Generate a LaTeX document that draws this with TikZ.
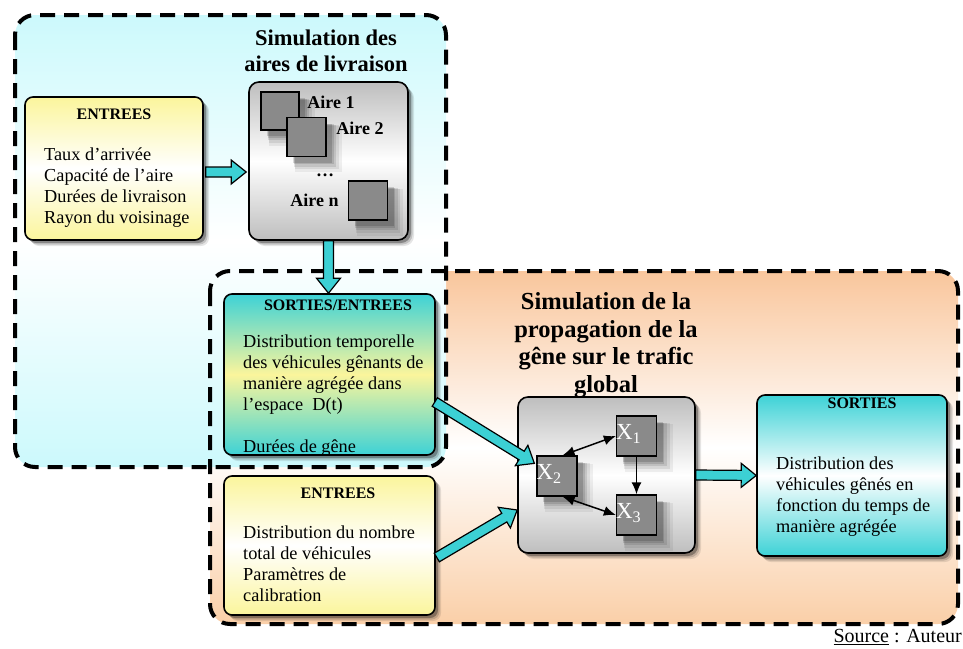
\documentclass[tikz,border=0pt]{standalone}
\usepackage{fontspec}
\setmainfont{Liberation Serif}
\usetikzlibrary{arrows.meta, positioning, calc, shadows}
\definecolor{zonecyan}{HTML}{CCF9FC}
\definecolor{zoneorange}{HTML}{F9C69C}
\definecolor{zoneorangelow}{HTML}{FACFA8}
\definecolor{boxyellow}{HTML}{FBF59C}
\definecolor{boxcyan}{HTML}{3DD2D6}
\definecolor{boxgray}{HTML}{BEBEBE}
\definecolor{stategray}{HTML}{8A8A8A}
\definecolor{arrowcyan}{HTML}{3CD0D4}
\tikzset{
  zone/.style={line width=4pt, dash pattern=on 15pt off 9pt, rounded corners=20pt},
  boxshadow/.style={drop shadow={shadow xshift=6pt, shadow yshift=-6pt, fill=black, opacity=.1},
    drop shadow={shadow xshift=4.5pt, shadow yshift=-4.5pt, fill=black, opacity=.15},
    drop shadow={shadow xshift=3pt, shadow yshift=-3pt, fill=black, opacity=.3}},
  sqshadow/.style={drop shadow={shadow xshift=10pt, shadow yshift=-10pt, shadow scale=1.2, fill=black, opacity=.06},
    drop shadow={shadow xshift=9pt, shadow yshift=-9pt, shadow scale=1.14, fill=black, opacity=.08},
    drop shadow={shadow xshift=8pt, shadow yshift=-8pt, shadow scale=1.08, fill=black, opacity=.1},
    drop shadow={shadow xshift=7pt, shadow yshift=-7pt, shadow scale=1.03, fill=black, opacity=.12},
    drop shadow={shadow xshift=6pt, shadow yshift=-6pt, fill=black, opacity=.15}},
  inbox/.style={draw, line width=1.6pt, rounded corners=8pt, top color=boxyellow,
    bottom color=boxyellow, middle color=white, boxshadow},
  iobox/.style={draw, line width=1.6pt, rounded corners=8pt, top color=boxcyan,
    bottom color=boxcyan, middle color=boxyellow, boxshadow},
  outbox/.style={draw, line width=1.6pt, rounded corners=8pt, top color=boxcyan,
    bottom color=boxcyan, middle color=white, boxshadow},
  simbox/.style={draw, line width=1.6pt, rounded corners=10pt, top color=boxgray,
    bottom color=boxgray, middle color=white, boxshadow},
  state/.style={draw, line width=1.3pt, fill=stategray, inner sep=0pt, sqshadow},
  zonetitle/.style={font=\bfseries\fontsize{22.5}{26}\selectfont, align=center, inner sep=0pt},
  boxtitle/.style={font=\bfseries\fontsize{16}{19}\selectfont, inner sep=0pt},
  boxtext/.style={font=\fontsize{18.3}{21}\selectfont, align=left, inner sep=0pt, anchor=west},
  airelbl/.style={font=\bfseries\fontsize{18}{20}\selectfont, inner sep=0pt},
  xlbl/.style={font=\fontsize{23}{26}\selectfont, text=white, inner sep=0pt},
  link/.style={line width=1.5pt, black},
  fatarrow/.style={fill=arrowcyan, draw=black, line width=1.2pt, line join=miter},
  >={Latex[length=12pt, width=10pt]}
}
\newcommand{\fatarrow}[2]{%
  \path (#1) coordinate (fa-s) (#2) coordinate (fa-e);
  \path ($(fa-e)!15pt!(fa-s)$) coordinate (fa-h);
  \draw[fatarrow] ($(fa-s)!5pt!90:(fa-e)$) -- ($(fa-h)!5pt!90:(fa-e)$)
    -- ($(fa-h)!12pt!90:(fa-e)$) -- (fa-e) -- ($(fa-h)!12pt!-90:(fa-e)$)
    -- ($(fa-h)!5pt!-90:(fa-e)$) -- ($(fa-s)!5pt!-90:(fa-e)$) -- cycle;
}
\begin{document}
\begin{tikzpicture}[x=1pt, y=-1pt]
  \useasboundingbox (0,0) rectangle (963,648);
  % Zones (fills first, then dashed borders)
  \shade[top color=zoneorange, bottom color=zoneorangelow, middle color=white, rounded corners=20pt]
    (210,271) rectangle (958,624);
  \shade[top color=zonecyan, bottom color=zonecyan, middle color=white, rounded corners=20pt]
    (15,15) rectangle (446,467);
  \draw[zone] (210,271) rectangle (958,624);
  \draw[zone] (15,15) rectangle (446,467);
  \node[zonetitle] (t-zone1) at (326,51) {Simulation des\\aires de livraison};
  \node[zonetitle, font=\bfseries\fontsize{24.5}{27.5}\selectfont] (t-zone2) at (606,345)
    {Simulation de la\\propagation de la\\gêne sur le trafic\\global};

  % Entrees + simulation of the delivery areas
  \node[inbox, minimum width=178pt, minimum height=143pt] (in1) at (114,168.5) {};
  \node[boxtitle] (in1-title) at (114,114) {ENTREES};
  \node[boxtext] (in1-text) at (44,188)
    {Taux d’arrivée\\Capacité de l’aire\\Durées de livraison\\Rayon du voisinage};
  \node[simbox, minimum width=159pt, minimum height=158pt] (sim1) at (328.5,161) {};
  \node[state, minimum size=38pt] (a1) at (280,111) {};
  \node[state, minimum size=39pt] (a2) at (306.5,137) {};
  \node[state, minimum size=39pt] (an) at (368,200.5) {};
  \node[airelbl] (a1-lbl) at (331,102) {Aire 1};
  \node[airelbl] (a2-lbl) at (360,128) {Aire 2};
  \node[airelbl] (dots) at (325,175) {…};
  \node[airelbl] (an-lbl) at (314.5,200) {Aire n};

  % Sorties/Entrees + Entrees
  \node[iobox, minimum width=211pt, minimum height=161pt] (so1) at (329.5,374.5) {};
  \node[boxtitle] (so1-title) at (338,305) {SORTIES/ENTREES};
  \node[boxtext] (so1-text) at (243,396)
    {Distribution temporelle\\des véhicules gênants de\\manière agrégée dans\\l’espace\ \ D(t)\\[21pt]Durées de gêne};
  \node[inbox, minimum width=211pt, minimum height=139pt] (in2) at (329.5,545.5) {};
  \node[boxtitle] (in2-title) at (338,493) {ENTREES};
  \node[boxtext] (in2-text) at (243,564)
    {Distribution du nombre\\total de véhicules\\Paramètres de\\calibration};

  % Propagation on the global traffic
  \node[simbox, minimum width=177pt, minimum height=156pt] (sim2) at (606.5,475) {};
  \node[state, minimum size=40pt] (x1) at (636.5,436) {};
  \node[state, minimum size=40pt] (x2) at (557,476) {};
  \node[state, minimum size=40pt] (x3) at (636.5,515) {};
  \node[xlbl, below right=9pt and 0pt of x1.north west] (x1-lbl) {X\textsubscript{1}};
  \node[xlbl, below right=9pt and 0pt of x2.north west] (x2-lbl) {X\textsubscript{2}};
  \node[xlbl, below right=9pt and 0pt of x3.north west] (x3-lbl) {X\textsubscript{3}};
  \draw[link, <->] (x2.75) -- (x1.west);
  \draw[link, ->] (x1.south) -- (x3.north);
  \draw[link, <->] (x2.-75) -- (x3.west);

  % Sorties
  \node[outbox, minimum width=190pt, minimum height=161pt] (out1) at (852,475.5) {};
  \node[boxtitle] (out1-title) at (862,403) {SORTIES};
  \node[boxtext] (out1-text) at (776,497)
    {Distribution des\\véhicules gênés en\\fonction du temps de\\manière agrégée};

  % Fat arrows
  \coordinate (in1-out) at ($(in1.east)+(2,3.5)$);
  \coordinate (sim1-in) at ($(in1.east -| sim1.west)+(-2,3.5)$);
  \coordinate (so1-out) at ($(so1.east)+(-1,27.5)$);
  \coordinate (x2-in) at ($(x2.north west)+(-2,8)$);
  \coordinate (in2-out) at ($(in2.east)+(1,12)$);
  \coordinate (sim2-in) at ($(sim2.west)+(0,35)$);
  \fatarrow{in1-out}{sim1-in}
  \fatarrow{sim1.south}{sim1.south |- so1.north}
  \fatarrow{so1-out}{x2-in}
  \fatarrow{in2-out}{sim2-in}
  \fatarrow{sim2.east}{out1.west}

  \node[anchor=east, font=\fontsize{20}{24}\selectfont, inner sep=0pt] (src) at (962,637)
    {\underline{Source} : Auteur};
\end{tikzpicture}
\end{document}
